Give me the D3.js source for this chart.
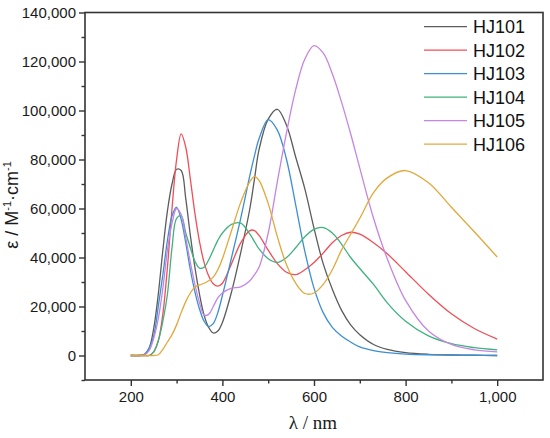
<!DOCTYPE html>
<html>
<head>
<meta charset="utf-8">
<script src="https://cdn.jsdelivr.net/npm/d3@7"></script>
<style>
  html, body { margin: 0; padding: 0; background: #fff; }
  svg { display: block; }
</style>
</head>
<body>
<svg id="chart" width="550" height="438"></svg>
<script>
// wavelength grid (nm)
const wavelengths = [200,220,230,240,250,260,270,280,290,300,310,320,330,340,350,360,370,380,390,400,420,440,460,470,480,500,520,540,560,580,600,620,640,660,680,700,730,760,800,850,900,950,1000];
const seriesNames = ["HJ101","HJ102","HJ103","HJ104","HJ105","HJ106"];
const seriesColors = ["#5c5c5c","#ef4f58","#3d8fd3","#3fb27e","#c586e3","#e2a83c"];
// ε values (M^-1 cm^-1)
const HJ101 = [0,0,500,3000,11000,25000,43000,59000,70000,76000,75500,64000,49000,36000,25000,16500,11500,9200,10000,13500,26000,42000,60000,72000,84000,96500,100500,94000,81000,68000,52000,37500,27000,18500,12500,8500,4500,2500,1200,500,200,100,0];
const HJ102 = [0,0,0,0,1500,6000,17000,36000,60000,80000,90500,85000,72000,58000,46500,38000,32500,29300,28300,29500,37500,46000,51000,51000,49000,43000,37500,34000,33000,35000,38000,41800,46000,49000,50300,49500,46000,41500,34200,25000,17000,11000,6700];
const HJ103 = [0,0,500,3000,8000,20000,33000,47000,57000,60500,55500,46000,35000,26000,19000,14000,11800,13000,17500,24500,40000,56000,73500,81500,88500,96300,92000,80000,61500,42500,27500,17500,11500,8000,5500,3500,2000,1200,600,300,200,100,0];
const HJ104 = [0,0,0,0,1500,6000,14000,25000,44000,56000,57000,50000,44000,38500,35700,36000,39000,43000,47000,50000,53500,54000,49500,46500,43500,39500,38000,40000,44000,48500,51500,52200,50000,45500,40000,35500,29000,21500,14000,8000,4800,3200,2300];
const HJ105 = [0,0,300,2000,7000,15000,27500,43000,54000,60000,57500,48000,38000,29000,21500,16500,16800,20000,23500,25500,27500,28000,30500,33000,36000,50000,71000,91000,108500,121000,126500,123500,115000,103500,90500,76500,56000,39500,22500,10000,4500,2300,1500];
const HJ106 = [0,0,0,0,0,300,2500,5500,8500,12500,17500,22000,25500,28000,28800,29500,30500,32000,35000,39500,51000,62500,71000,73000,71500,62000,48500,37000,29500,25300,25500,29000,35000,43000,49500,56000,66500,72500,75500,70500,60500,50500,40200];
const seriesValues = [HJ101, HJ102, HJ103, HJ104, HJ105, HJ106];
const xTicks = [200,400,600,800,1000];
const xMinorTicks = [300,500,700,900];
const yTicks = [0,20000,40000,60000,80000,100000,120000,140000];
const yMinorTicks = [-10000,10000,30000,50000,70000,90000,110000,130000];

const svg = d3.select("#chart");
const mLeft = 85, mRight = 543, mTop = 12.5, mBottom = 380;
const x = d3.scaleLinear().domain([100,1100]).range([mLeft,mRight]);
const y = d3.scaleLinear().domain([-10000,140000]).range([mBottom,mTop]);
const fmt = d3.format(",");
const axisColor = "#333";

// curves
const line = d3.line()
  .x(d => x(d[0]))
  .y(d => y(d[1]))
  .curve(d3.curveCatmullRom.alpha(0.5));

seriesValues.forEach((vals, i) => {
  svg.append("path")
    .datum(wavelengths.map((w, k) => [w, vals[k]]))
    .attr("fill", "none")
    .attr("stroke", seriesColors[i])
    .attr("stroke-width", 1.3)
    .attr("d", line);
});

// frame
svg.append("rect")
  .attr("x", mLeft).attr("y", mTop)
  .attr("width", mRight-mLeft).attr("height", mBottom-mTop)
  .attr("fill", "none").attr("stroke", axisColor).attr("stroke-width", 1.6);

// x axis
const xAxis = svg.append("g").attr("transform", `translate(0,${mBottom})`)
  .call(d3.axisBottom(x).tickValues(xTicks).tickFormat(fmt).tickSize(6).tickSizeOuter(0).tickPadding(5));
const xMinor = svg.append("g").attr("transform", `translate(0,${mBottom})`)
  .call(d3.axisBottom(x).tickValues(xMinorTicks).tickFormat("").tickSize(3.5).tickSizeOuter(0));
// y axis
const yAxis = svg.append("g").attr("transform", `translate(${mLeft},0)`)
  .call(d3.axisLeft(y).tickValues(yTicks).tickFormat(fmt).tickSize(6).tickSizeOuter(0).tickPadding(3));
const yMinor = svg.append("g").attr("transform", `translate(${mLeft},0)`)
  .call(d3.axisLeft(y).tickValues(yMinorTicks).tickFormat("").tickSize(3.5).tickSizeOuter(0));

[xAxis, xMinor, yAxis, yMinor].forEach(g => {
  g.select(".domain").remove();
  g.selectAll("line").attr("stroke", axisColor).attr("stroke-width", 1.4);
  g.selectAll("text").attr("fill", "#1a1a1a")
    .style("font-family", "'Liberation Sans', Arial, sans-serif").style("font-size", "15px");
});

// axis titles
svg.append("text")
  .attr("x", 313).attr("y", 429)
  .attr("text-anchor", "middle")
  .style("font-family", "'Liberation Serif', 'Times New Roman', serif")
  .style("font-size", "19px").attr("fill", "#1a1a1a")
  .text("λ / nm");

const yt = svg.append("text")
  .attr("transform", "translate(18,205) rotate(-90)")
  .attr("text-anchor", "middle")
  .style("font-family", "'Liberation Sans', Arial, sans-serif")
  .style("font-size", "18px").attr("fill", "#1a1a1a");
yt.append("tspan").text("ε / M");
yt.append("tspan").attr("dy", -7).style("font-size", "11px").text("-1");
yt.append("tspan").attr("dy", 7).text("·cm");
yt.append("tspan").attr("dy", -7).style("font-size", "11px").text("-1");

// legend
const legend = svg.append("g");
seriesNames.forEach((name, i) => {
  const cy = 26.7 + i * 23.5;
  legend.append("line")
    .attr("x1", 424).attr("x2", 467).attr("y1", cy).attr("y2", cy)
    .attr("stroke", seriesColors[i]).attr("stroke-width", 1.3);
  legend.append("text")
    .attr("x", 473).attr("y", cy).attr("dy", "0.36em")
    .style("font-family", "'Liberation Sans', Arial, sans-serif")
    .style("font-size", "18px").attr("fill", "#111")
    .text(name);
});
</script>
</body>
</html>
